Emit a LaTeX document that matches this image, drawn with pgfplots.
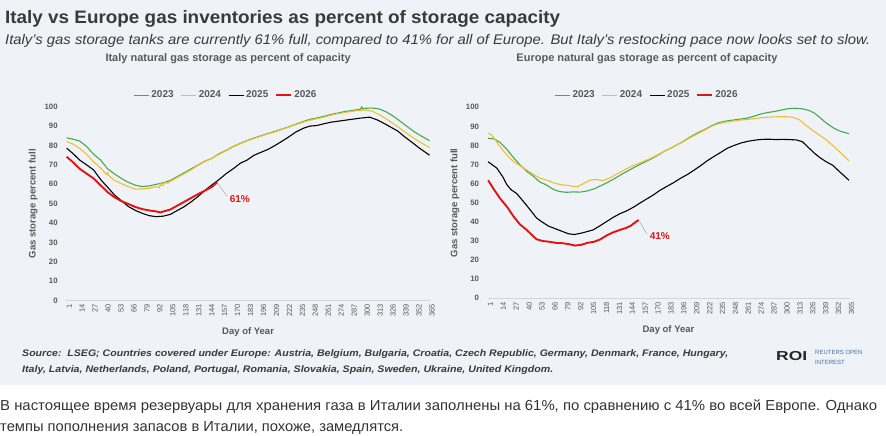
\documentclass[border=0pt]{standalone}
\usepackage{pgfplots}
\pgfplotsset{compat=1.18}
\usepackage{pgfplotstable}
\usepackage{graphicx}
\usepackage{fontspec}
\setmainfont{Liberation Sans}

\definecolor{panel}{RGB}{239,243,248}
\definecolor{txtgray}{RGB}{89,89,89}
\definecolor{headgray}{RGB}{58,58,58}
\definecolor{axisgray}{RGB}{210,214,220}
\definecolor{c2023}{RGB}{72,168,78}
\definecolor{c2024}{RGB}{240,190,50}
\definecolor{c2025}{RGB}{0,0,0}
\definecolor{c2026}{RGB}{228,18,18}
\definecolor{roiblue}{RGB}{70,110,160}

% stretch a line of text horizontally to a given width
\newcommand{\fitto}[2]{\resizebox{#1}{\height}{#2}}

% ---------------- Italy ----------------
\pgfplotstableread{
d v
1 84.0
7 83.3
14 82.3
21 79.5
28 75.5
35 72.5
42 68.0
49 65.3
56 63.0
63 61.0
70 59.5
77 58.8
84 59.2
91 60.0
98 60.8
105 62.0
112 64.0
119 66.0
126 68.0
133 70.0
140 72.0
147 73.5
154 75.8
161 77.5
168 79.5
175 81.0
182 82.6
189 83.8
196 85.0
203 86.2
210 87.3
217 88.5
224 89.7
231 91.0
238 92.3
245 93.5
252 94.2
259 95.0
266 96.0
273 96.7
280 97.5
287 98.0
294 98.6
296 98.7
297 100.0
298 98.8
301 99.2
308 99.3
315 98.8
322 97.2
329 95.0
336 92.3
343 89.6
350 87.0
357 84.8
365 82.5
}\itaA

\pgfplotstableread{
d v
1 82.0
7 80.8
14 78.5
21 75.5
28 71.5
35 68.5
41 65.0
42 66.3
43 64.6
49 62.0
56 60.3
63 58.8
70 57.5
77 57.6
84 58.0
91 58.8
94 58.2
95 60.6
96 59.2
98 59.6
100 61.2
102 60.4
105 61.5
112 63.5
119 65.5
126 67.5
133 69.8
140 71.8
147 73.5
154 75.5
161 77.3
168 79.3
175 80.8
182 82.4
189 83.6
196 84.8
203 86.0
210 87.0
217 88.3
224 89.5
231 90.8
238 92.0
245 93.0
252 93.8
259 94.6
266 95.6
273 96.4
280 97.0
287 97.6
294 98.0
301 98.3
308 97.6
315 95.8
322 93.6
329 91.2
336 88.6
343 86.0
350 83.5
357 81.3
365 79.0
}\itaB

\pgfplotstableread{
d v
1 78.6
7 76.0
14 72.5
21 70.0
28 67.4
35 62.5
42 58.5
49 54.5
56 51.5
63 48.5
70 46.5
77 45.0
84 43.8
91 43.3
98 43.6
105 44.5
112 46.5
119 48.5
126 51.0
133 53.8
140 57.0
147 59.8
154 62.5
161 65.5
168 68.0
175 70.8
182 72.5
189 75.0
196 76.5
203 78.0
210 80.0
217 82.2
224 84.5
231 87.0
238 88.8
245 90.0
252 90.3
259 91.2
266 92.0
273 92.5
280 93.0
287 93.5
294 94.0
301 94.4
305 94.6
312 93.3
319 91.5
326 89.5
333 87.5
340 84.5
347 81.8
354 79.0
360 76.8
365 75.0
}\itaC

\pgfplotstableread{
d v
1 74.2
7 71.5
14 68.0
21 65.5
28 63.0
35 59.5
42 56.0
49 53.3
56 51.3
63 49.8
70 48.3
77 47.2
84 46.5
91 46.0
95 45.5
98 46.0
105 47.0
112 49.0
119 51.0
126 53.0
133 55.0
140 56.8
147 58.8
152 61.0
}\itaD

% ---------------- Europe ----------------
\pgfplotstableread{
d v
1 83.8
7 83.5
13 81.7
20 78.0
26 74.1
33 70.0
40 66.5
47 63.8
53 61.0
60 59.3
67 57.0
74 55.8
80 55.5
87 55.7
94 55.6
101 56.2
108 57.3
115 59.0
122 60.8
129 62.8
136 65.0
143 67.0
150 69.0
157 70.8
164 72.6
171 74.5
178 76.8
185 78.5
192 80.5
199 82.5
206 84.8
213 86.8
220 88.5
227 90.5
234 92.0
241 92.8
248 93.3
255 93.8
262 94.3
269 95.3
276 96.5
283 97.3
290 97.8
297 98.6
304 99.3
311 99.5
318 99.2
325 98.3
330 97.0
336 94.5
342 91.8
349 89.3
356 87.5
365 86.2
}\eurA

\pgfplotstableread{
d v
1 86.4
4 85.8
7 84.0
13 79.5
20 75.0
27 71.5
33 69.5
40 67.2
47 64.8
53 63.0
60 61.9
67 60.5
74 59.5
80 59.2
87 58.6
91 58.4
94 59.2
98 60.3
104 61.9
110 62.2
117 61.6
124 63.0
130 64.8
137 66.8
144 68.7
150 70.0
157 71.5
164 73.0
171 74.8
178 76.8
185 78.5
192 80.5
199 82.3
206 84.4
213 86.3
220 88.2
227 90.2
234 91.5
241 92.3
248 92.8
255 93.3
262 93.6
269 94.0
276 94.5
283 94.8
290 95.0
297 95.1
304 95.0
309 94.6
315 93.5
321 90.8
328 88.0
335 85.5
342 83.0
349 79.8
356 76.5
365 72.0
}\eurB

\pgfplotstableread{
d v
1 71.5
5 70.0
10 68.1
16 63.5
20 59.5
24 57.0
30 54.8
37 50.5
44 46.0
50 42.0
56 39.8
62 37.8
70 36.2
76 35.0
82 33.8
88 33.4
94 34.0
100 34.8
107 35.8
114 38.0
120 40.0
127 42.3
134 44.3
141 45.8
148 47.8
154 49.8
161 52.0
168 54.2
174 56.4
181 58.5
188 60.5
195 62.8
202 64.8
208 66.8
215 69.3
222 72.0
229 74.3
236 76.5
242 78.5
249 80.0
256 81.3
263 82.2
270 82.8
277 83.2
284 83.3
291 83.1
298 83.2
305 83.1
312 82.9
318 82.0
324 79.0
330 76.0
336 73.5
342 71.5
349 69.5
356 66.0
365 61.8
}\eurC

\pgfplotstableread{
d v
1 61.9
7 57.0
13 52.4
20 48.0
27 42.7
33 38.8
40 35.8
46 32.8
50 30.9
56 30.0
63 29.6
70 29.0
77 28.8
83 28.3
89 27.6
95 28.0
101 29.0
108 29.6
114 30.8
121 33.0
127 34.5
134 35.8
140 36.8
145 38.0
150 40.0
153 41.0
}\eurD

\pgfplotsset{
  storage/.style={
    scale only axis,
    xmin=0.5, xmax=365.5, ymin=0, ymax=100,
    axis x line=bottom, axis y line=left,
    x axis line style={draw=axisgray, line width=0.8pt, -},
    y axis line style={draw=none},
    major tick length=0pt,
    xtick={1,14,...,365},
    ytick={0,10,...,100},
    /pgf/number format/assume math mode=true,
    tick label style={text=txtgray},
    x tick label style={rotate=90, anchor=east, yshift=-2.5pt,
      font=\fontsize{7.5}{8}\selectfont},
    y tick label style={xshift=-5pt, font=\bfseries\fontsize{7.8}{8}\selectfont},
    xlabel={Day of Year},
    ylabel={Gas storage percent full},
    label style={text=txtgray, font=\bfseries\fontsize{9.5}{10}\selectfont},
    title style={text=txtgray, font=\bfseries\fontsize{11}{12}\selectfont, anchor=center},
    legend columns=4,
    legend style={draw=none, fill=none, text=txtgray, anchor=center,
      font=\bfseries\fontsize{10}{11}\selectfont,
      /tikz/every even column/.append style={column sep=5pt},
      inner sep=0pt},
    legend image code/.code={\draw[#1] (0pt,0pt) -- (15pt,0pt);},
    every axis plot/.append style={line join=round},
  },
  y2023/.style={c2023, line width=1.1pt},
  y2024/.style={c2024, line width=1.1pt},
  y2025/.style={c2025, line width=1.1pt},
  y2026/.style={c2026, line width=1.9pt},
}

\begin{document}
\begin{tikzpicture}[x=1pt,y=1pt]
  % backdrop
  \fill[white] (0,0) rectangle (886,436);
  \fill[panel] (0,51) rectangle (886,436);

  % headline and standfirst
  \node[anchor=base west, inner sep=0, text=headgray] at (5,412.5)
    {\fitto{555pt}{\bfseries\fontsize{18}{20}\selectfont Italy vs Europe gas inventories as percent of storage capacity}};
  \node[anchor=base west, inner sep=0, text=headgray] at (5,391)
    {\fitto{865pt}{\itshape\fontsize{14}{16}\selectfont Italy's gas storage tanks are currently 61\% full, compared to 41\% for all of Europe. But Italy's restocking pace now looks set to slow.}};

  % Italy panel
  \begin{axis}[storage,
      at={(66.2pt,135.3pt)}, anchor=south west,
      width=363.8pt, height=194pt,
      title={Italy natural gas storage as percent of capacity},
      title style={at={(axis description cs:0.445,1.215)}},
      legend style={at={(axis description cs:0.439,1.06)}},
      xlabel style={at={(axis description cs:0.5,-0.161)}, anchor=center},
      ylabel style={at={(axis description cs:-0.0907,0.5)}, anchor=center},
    ]
    \addplot[y2023] table[x=d, y=v] {\itaA};
    \addplot[y2024] table[x=d, y=v] {\itaB};
    \addplot[y2025] table[x=d, y=v] {\itaC};
    \addplot[y2026] table[x=d, y=v] {\itaD};
    \legend{2023,2024,2025,2026}
    \draw[gray!70, line width=0.5pt] (axis cs:153,60) -- (axis cs:162,53.8);
    \node[anchor=west, text=c2026, font=\bfseries\fontsize{10}{11}\selectfont, inner sep=1pt]
      at (axis cs:163.5,52.4) {61\%};
  \end{axis}

  % Europe panel
  \begin{axis}[storage,
      at={(487.5pt,137.7pt)}, anchor=south west,
      width=362pt, height=191pt,
      title={Europe natural gas storage as percent of capacity},
      title style={at={(axis description cs:0.4406,1.221)}},
      legend style={at={(axis description cs:0.4406,1.064)}},
      xlabel style={at={(axis description cs:0.5,-0.164)}, anchor=center},
      ylabel style={at={(axis description cs:-0.0898,0.5)}, anchor=center},
    ]
    \addplot[y2023] table[x=d, y=v] {\eurA};
    \addplot[y2024] table[x=d, y=v] {\eurB};
    \addplot[y2025] table[x=d, y=v] {\eurC};
    \addplot[y2026] table[x=d, y=v] {\eurD};
    \legend{2023,2024,2025,2026}
    \draw[gray!70, line width=0.5pt] (axis cs:154,40) -- (axis cs:161,33.8);
    \node[anchor=west, text=c2026, font=\bfseries\fontsize{10}{11}\selectfont, inner sep=1pt]
      at (axis cs:163,32.6) {41\%};
  \end{axis}

  % source note
  \node[anchor=base west, inner sep=0, text=headgray] at (22,79.5)
    {\fitto{706pt}{\bfseries\itshape\fontsize{9.5}{11}\selectfont Source:\ \ LSEG; Countries covered under Europe: Austria, Belgium, Bulgaria, Croatia, Czech Republic, Germany, Denmark, France, Hungary,}};
  \node[anchor=base west, inner sep=0, text=headgray] at (22,63.5)
    {\fitto{531pt}{\bfseries\itshape\fontsize{9.5}{11}\selectfont Italy, Latvia, Netherlands, Poland, Portugal, Romania, Slovakia, Spain, Sweden, Ukraine, United Kingdom.}};

  % ROI mark: logotype and a two-line tag beside it
  \node[anchor=base west, inner sep=0, text=black!85] at (776,75)
    {\fitto{31pt}{\bfseries\fontsize{13}{14}\selectfont ROI}};
  \node[anchor=base west, inner sep=0, text=roiblue,
        font=\fontsize{6}{7}\selectfont] at (815,81)
    {REUTERS OPEN};
  \node[anchor=base west, inner sep=0, text=roiblue,
        font=\fontsize{6}{7}\selectfont] at (815,71)
    {INTEREST};

  % caption below the graphic
  \node[anchor=base west, inner sep=0, text=black!80] at (0,25.5)
    {\fitto{877pt}{\fontsize{14.5}{16}\selectfont В настоящее время резервуары для хранения газа в Италии заполнены на 61\%, по сравнению с 41\% во всей Европе. Однако}};
  \node[anchor=base west, inner sep=0, text=black!80] at (0,4.5)
    {\fitto{403pt}{\fontsize{14.5}{16}\selectfont темпы пополнения запасов в Италии, похоже, замедлятся.}};
\end{tikzpicture}
\end{document}
